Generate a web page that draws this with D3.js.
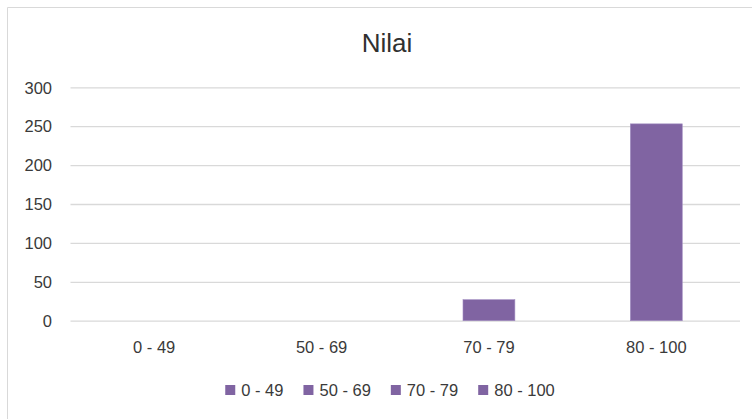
<!DOCTYPE html>
<html><head><meta charset="utf-8">
<script src="https://cdn.jsdelivr.net/npm/d3@7"></script>
<style>html,body{margin:0;padding:0;background:#fff;}svg{display:block;}</style>
</head><body>
<svg id="chart" width="752" height="419"></svg>
<script>
const title = "Nilai";
const categories = ["0 - 49", "50 - 69", "70 - 79", "80 - 100"];
const values = [0, 0, 27, 253];
const yTicks = [0, 50, 100, 150, 200, 250, 300];
const legendLabels = ["0 - 49", "50 - 69", "70 - 79", "80 - 100"];

const W = 752, H = 419;
const FONT = "'Liberation Sans', Arial, sans-serif";
const barColor = "#8064A2";
const gridColor = "#d9d9d9";
const textColor = "#3a3a3a";
const m = {left: 70.5, right: 740, top: 87.3, bottom: 320.7};

const svg = d3.select("#chart");
svg.append("rect").attr("width", W).attr("height", H).attr("fill", "#fff");
svg.append("path").attr("d", `M7.5,${H+2}V7.5H${W+2}`).attr("fill", "none").attr("stroke", "#d9d9d9").attr("stroke-width", 1);

const x = d3.scaleBand().domain(categories).range([m.left, m.right]).paddingInner(0.69).paddingOuter(0.345);
const y = d3.scaleLinear().domain([0, 300]).range([m.bottom, m.top]);

const yAxis = d3.axisLeft(y).tickValues(yTicks).tickSize(-(m.right - m.left)).tickPadding(18.5);
const gy = svg.append("g").attr("transform", `translate(${m.left},0)`).call(yAxis);
gy.select(".domain").remove();
gy.selectAll(".tick line").attr("stroke", gridColor).attr("stroke-width", 1.3);
gy.selectAll(".tick text").attr("font-family", FONT).attr("font-size", 16.5).attr("fill", textColor).attr("dy", "0.35em");

svg.append("g").selectAll("rect").data(categories).join("rect")
  .attr("x", d => x(d))
  .attr("width", x.bandwidth())
  .attr("y", (d, i) => y(values[i]))
  .attr("height", (d, i) => y(0) - y(values[i]))
  .attr("fill", barColor)
  .attr("stroke", "#a08cc0").attr("stroke-width", 0.6);

const xAxis = d3.axisBottom(x).tickSize(0).tickPadding(20);
const gx = svg.append("g").attr("transform", `translate(0,${m.bottom})`).call(xAxis);
gx.select(".domain").remove();
gx.selectAll(".tick text").attr("font-family", FONT).attr("font-size", 16.5).attr("fill", textColor).attr("dy", "0.35em").attr("y", 27);

svg.append("text").attr("x", 387).attr("y", 42.5).attr("dy", "0.35em").attr("text-anchor", "middle")
  .attr("font-family", FONT).attr("font-size", 26).attr("fill", "#303030").text(title);

const lg = svg.append("g");
const items = lg.selectAll("g").data(legendLabels).join("g");
items.append("rect").attr("width", 10).attr("height", 10).attr("y", -5).attr("fill", barColor);
items.append("text").attr("x", 16).attr("dy", "0.35em").attr("font-family", FONT).attr("font-size", 16.5).attr("fill", textColor).text(d => d);
let cx = 0;
items.each(function() {
  const g = d3.select(this);
  g.attr("transform", `translate(${cx},0)`);
  const w = 16 + g.select("text").node().getComputedTextLength();
  cx += w + 20;
});
const totalW = cx - 20;
lg.attr("transform", `translate(${390 - totalW / 2},390)`);
</script>
</body></html>
